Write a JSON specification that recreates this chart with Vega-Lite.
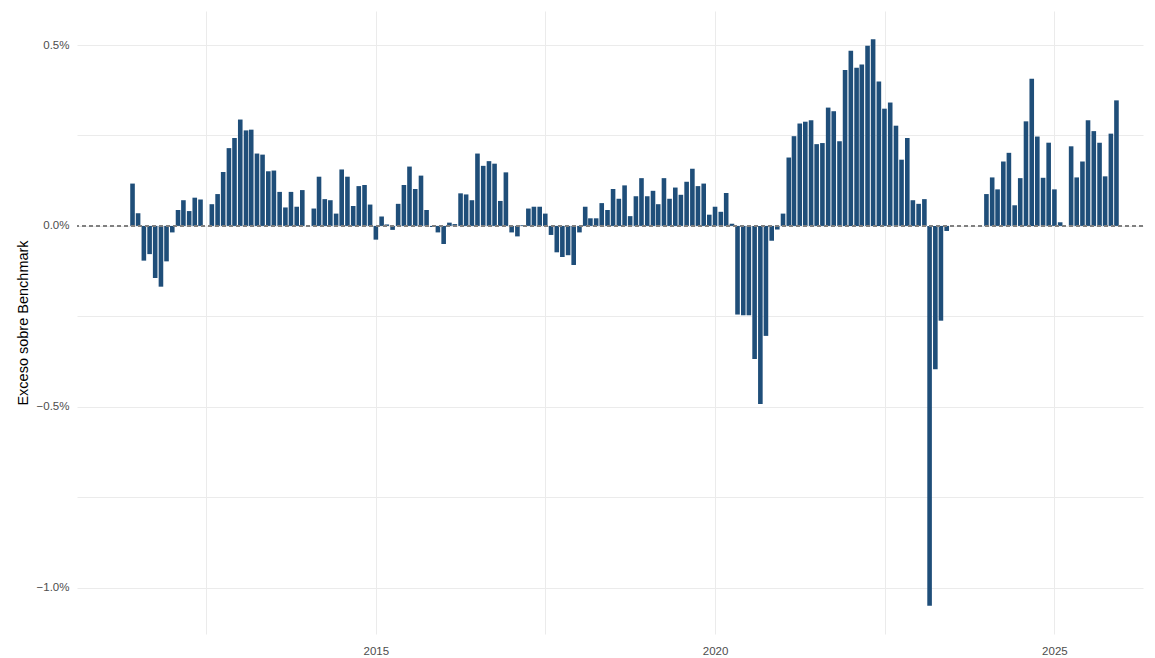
{
  "$schema": "https://vega.github.io/schema/vega-lite/v6.json",
  "autosize": "none",
  "width": 1066,
  "height": 623,
  "padding": {"left": 77, "top": 11, "right": 12, "bottom": 24},
  "background": "#ffffff",
  "config": {
    "view": {"stroke": null},
    "font": "Liberation Sans",
    "axis": {"domain": false, "ticks": false, "gridColor": "#ebebeb", "gridWidth": 1, "labelColor": "#4d4d4d", "labelFontSize": 11.5, "labelFont": "Liberation Sans", "titleFont": "Liberation Sans"}
  },
  "data": {"values": [
    {"d": "2011-06-01", "v": 0.117}, {"d": "2011-07-01", "v": 0.035}, {"d": "2011-08-01", "v": -0.096}, {"d": "2011-09-01", "v": -0.078},
    {"d": "2011-10-01", "v": -0.144}, {"d": "2011-11-01", "v": -0.168}, {"d": "2011-12-01", "v": -0.098},
    {"d": "2012-01-01", "v": -0.018}, {"d": "2012-02-01", "v": 0.044}, {"d": "2012-03-01", "v": 0.071}, {"d": "2012-04-01", "v": 0.041},
    {"d": "2012-05-01", "v": 0.078}, {"d": "2012-06-01", "v": 0.073}, {"d": "2012-08-01", "v": 0.060}, {"d": "2012-09-01", "v": 0.088},
    {"d": "2012-10-01", "v": 0.149}, {"d": "2012-11-01", "v": 0.215}, {"d": "2012-12-01", "v": 0.243},
    {"d": "2013-01-01", "v": 0.294}, {"d": "2013-02-01", "v": 0.264}, {"d": "2013-03-01", "v": 0.266}, {"d": "2013-04-01", "v": 0.200},
    {"d": "2013-05-01", "v": 0.197}, {"d": "2013-06-01", "v": 0.151}, {"d": "2013-07-01", "v": 0.153}, {"d": "2013-08-01", "v": 0.094},
    {"d": "2013-09-01", "v": 0.051}, {"d": "2013-10-01", "v": 0.094}, {"d": "2013-11-01", "v": 0.053}, {"d": "2013-12-01", "v": 0.099},
    {"d": "2014-02-01", "v": 0.048}, {"d": "2014-03-01", "v": 0.136}, {"d": "2014-04-01", "v": 0.074}, {"d": "2014-05-01", "v": 0.071},
    {"d": "2014-06-01", "v": 0.034}, {"d": "2014-07-01", "v": 0.156}, {"d": "2014-08-01", "v": 0.136}, {"d": "2014-09-01", "v": 0.055},
    {"d": "2014-10-01", "v": 0.110}, {"d": "2014-11-01", "v": 0.113}, {"d": "2014-12-01", "v": 0.059},
    {"d": "2015-01-01", "v": -0.038}, {"d": "2015-02-01", "v": 0.026}, {"d": "2015-03-01", "v": 0.004}, {"d": "2015-04-01", "v": -0.011},
    {"d": "2015-05-01", "v": 0.061}, {"d": "2015-06-01", "v": 0.113}, {"d": "2015-07-01", "v": 0.164}, {"d": "2015-08-01", "v": 0.102},
    {"d": "2015-09-01", "v": 0.139}, {"d": "2015-10-01", "v": 0.044}, {"d": "2015-11-01", "v": -0.003}, {"d": "2015-12-01", "v": -0.018},
    {"d": "2016-01-01", "v": -0.050}, {"d": "2016-02-01", "v": 0.009}, {"d": "2016-03-01", "v": 0.005}, {"d": "2016-04-01", "v": 0.090},
    {"d": "2016-05-01", "v": 0.087}, {"d": "2016-06-01", "v": 0.071}, {"d": "2016-07-01", "v": 0.200}, {"d": "2016-08-01", "v": 0.166},
    {"d": "2016-09-01", "v": 0.179}, {"d": "2016-10-01", "v": 0.172}, {"d": "2016-11-01", "v": 0.069}, {"d": "2016-12-01", "v": 0.148},
    {"d": "2017-01-01", "v": -0.018}, {"d": "2017-02-01", "v": -0.029}, {"d": "2017-03-01", "v": 0.002}, {"d": "2017-04-01", "v": 0.048},
    {"d": "2017-05-01", "v": 0.053}, {"d": "2017-06-01", "v": 0.053}, {"d": "2017-07-01", "v": 0.034}, {"d": "2017-08-01", "v": -0.025},
    {"d": "2017-09-01", "v": -0.073}, {"d": "2017-10-01", "v": -0.086}, {"d": "2017-11-01", "v": -0.081}, {"d": "2017-12-01", "v": -0.108},
    {"d": "2018-01-01", "v": -0.018}, {"d": "2018-02-01", "v": 0.053}, {"d": "2018-03-01", "v": 0.021}, {"d": "2018-04-01", "v": 0.021},
    {"d": "2018-05-01", "v": 0.063}, {"d": "2018-06-01", "v": 0.044}, {"d": "2018-07-01", "v": 0.102}, {"d": "2018-08-01", "v": 0.075},
    {"d": "2018-09-01", "v": 0.112}, {"d": "2018-10-01", "v": 0.027}, {"d": "2018-11-01", "v": 0.082}, {"d": "2018-12-01", "v": 0.132},
    {"d": "2019-01-01", "v": 0.082}, {"d": "2019-02-01", "v": 0.097}, {"d": "2019-03-01", "v": 0.060}, {"d": "2019-04-01", "v": 0.132},
    {"d": "2019-05-01", "v": 0.075}, {"d": "2019-06-01", "v": 0.106}, {"d": "2019-07-01", "v": 0.086}, {"d": "2019-08-01", "v": 0.122},
    {"d": "2019-09-01", "v": 0.158}, {"d": "2019-10-01", "v": 0.110}, {"d": "2019-11-01", "v": 0.117}, {"d": "2019-12-01", "v": 0.031},
    {"d": "2020-01-01", "v": 0.053}, {"d": "2020-02-01", "v": 0.039}, {"d": "2020-03-01", "v": 0.091}, {"d": "2020-04-01", "v": 0.006},
    {"d": "2020-05-01", "v": -0.245}, {"d": "2020-06-01", "v": -0.247}, {"d": "2020-07-01", "v": -0.247}, {"d": "2020-08-01", "v": -0.368},
    {"d": "2020-09-01", "v": -0.492}, {"d": "2020-10-01", "v": -0.304}, {"d": "2020-11-01", "v": -0.041}, {"d": "2020-12-01", "v": -0.010},
    {"d": "2021-01-01", "v": 0.034}, {"d": "2021-02-01", "v": 0.189}, {"d": "2021-03-01", "v": 0.248}, {"d": "2021-04-01", "v": 0.283},
    {"d": "2021-05-01", "v": 0.288}, {"d": "2021-06-01", "v": 0.292}, {"d": "2021-07-01", "v": 0.226}, {"d": "2021-08-01", "v": 0.229},
    {"d": "2021-09-01", "v": 0.327}, {"d": "2021-10-01", "v": 0.317}, {"d": "2021-11-01", "v": 0.234}, {"d": "2021-12-01", "v": 0.431},
    {"d": "2022-01-01", "v": 0.484}, {"d": "2022-02-01", "v": 0.437}, {"d": "2022-03-01", "v": 0.446}, {"d": "2022-04-01", "v": 0.498},
    {"d": "2022-05-01", "v": 0.516}, {"d": "2022-06-01", "v": 0.399}, {"d": "2022-07-01", "v": 0.324}, {"d": "2022-08-01", "v": 0.341},
    {"d": "2022-09-01", "v": 0.277}, {"d": "2022-10-01", "v": 0.183}, {"d": "2022-11-01", "v": 0.243}, {"d": "2022-12-01", "v": 0.071},
    {"d": "2023-01-01", "v": 0.061}, {"d": "2023-02-01", "v": 0.074}, {"d": "2023-03-01", "v": -1.050}, {"d": "2023-04-01", "v": -0.396},
    {"d": "2023-05-01", "v": -0.262}, {"d": "2023-06-01", "v": -0.014},
    {"d": "2024-01-01", "v": 0.088}, {"d": "2024-02-01", "v": 0.134}, {"d": "2024-03-01", "v": 0.101}, {"d": "2024-04-01", "v": 0.178},
    {"d": "2024-05-01", "v": 0.202}, {"d": "2024-06-01", "v": 0.057}, {"d": "2024-07-01", "v": 0.132}, {"d": "2024-08-01", "v": 0.289},
    {"d": "2024-09-01", "v": 0.407}, {"d": "2024-10-01", "v": 0.247}, {"d": "2024-11-01", "v": 0.133}, {"d": "2024-12-01", "v": 0.230},
    {"d": "2025-01-01", "v": 0.101}, {"d": "2025-02-01", "v": 0.010}, {"d": "2025-04-01", "v": 0.220}, {"d": "2025-05-01", "v": 0.134},
    {"d": "2025-06-01", "v": 0.178}, {"d": "2025-07-01", "v": 0.292}, {"d": "2025-08-01", "v": 0.262}, {"d": "2025-09-01", "v": 0.230},
    {"d": "2025-10-01", "v": 0.137}, {"d": "2025-11-01", "v": 0.255}, {"d": "2025-12-01", "v": 0.347}
  ]},
  "layer": [
    {
      "mark": {"type": "bar", "color": "#1f4e79", "size": 4.6},
      "encoding": {
        "x": {
          "field": "d", "type": "temporal", "title": null,
          "scale": {"type": "utc", "domain": [{"year": 2010, "month": 9, "date": 2, "utc": true}, {"year": 2026, "month": 3, "date": 27, "utc": true}]},
          "axis": {
            "values": [
              {"year": 2012, "month": 7, "date": 2, "utc": true},
              {"year": 2015, "month": 1, "date": 1, "utc": true},
              {"year": 2017, "month": 7, "date": 2, "utc": true},
              {"year": 2020, "month": 1, "date": 1, "utc": true},
              {"year": 2022, "month": 7, "date": 2, "utc": true},
              {"year": 2025, "month": 1, "date": 1, "utc": true}
            ],
            "labelExpr": "utcmonth(datum.value) == 0 ? utcFormat(datum.value, '%Y') : ''",
            "labelPadding": 11
          }
        },
        "y": {
          "field": "v", "type": "quantitative",
          "title": "Exceso sobre Benchmark",
          "scale": {"domain": [-1.128, 0.594], "nice": false, "zero": false},
          "axis": {
            "values": [-1.0, -0.75, -0.5, -0.25, 0, 0.25, 0.5],
            "labelExpr": "abs(datum.value * 2 - round(datum.value * 2)) < 0.01 ? format(datum.value, '.1f') + '%' : ''",
            "labelPadding": 8,
            "titleFontSize": 14.5,
            "titleFontWeight": "normal",
            "titleColor": "#000000",
            "titlePadding": 6
          }
        }
      }
    },
    {
      "mark": {"type": "rule", "color": "#808080", "strokeDash": [4, 3], "strokeWidth": 1},
      "encoding": {"y": {"datum": 0, "type": "quantitative"}}
    }
  ]
}
